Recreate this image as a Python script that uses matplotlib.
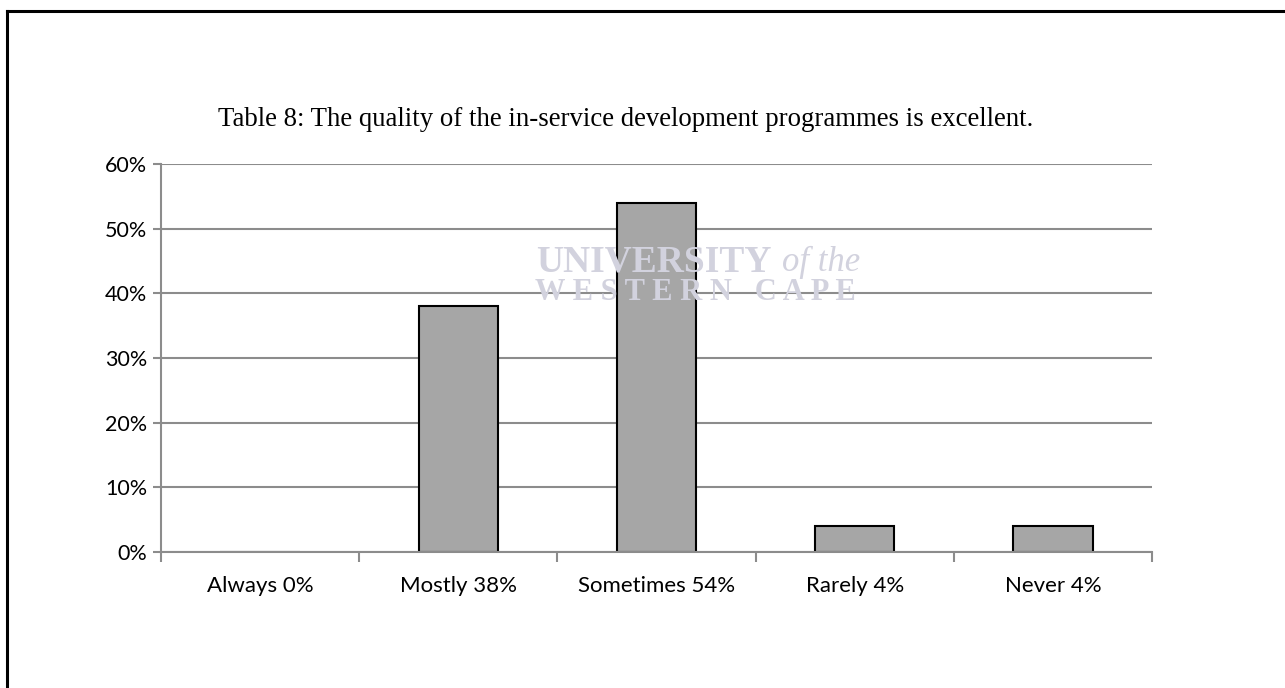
import matplotlib
matplotlib.use("Agg")
import matplotlib.pyplot as plt
from matplotlib.ticker import PercentFormatter, FixedLocator
import numpy as np

# ─────────────────────────────────────────────────────────────────────────────
# Data
# ─────────────────────────────────────────────────────────────────────────────

categories = ["Always 0%", "Mostly 38%", "Sometimes 54%", "Rarely 4%", "Never 4%"]
values = [0, 38, 54, 4, 4]
y_ticks = [0, 10, 20, 30, 40, 50, 60]
title = "Table 8: The quality of the in-service development programmes is excellent."

GRID = "#8c8c8c"
BAR = "#a6a6a6"
MARK = "#d2d2de"

fig = plt.figure(figsize=(12.85, 6.88), dpi=100)

# page frame (top and left edges of the cropped page)
fig.add_artist(plt.Line2D([7 / 1285, 7 / 1285], [0, 1 - 11 / 688], color="black", lw=2.2))
fig.add_artist(plt.Line2D([7 / 1285, 1], [1 - 11 / 688, 1 - 11 / 688], color="black", lw=2.2))

# faint watermark
fig.text(772 / 1285, 1 - 262 / 688, "UNIVERSITY", family="Liberation Serif",
         weight="bold", fontsize=27, color=MARK, ha="right", va="center", zorder=0)
fig.text(782 / 1285, 1 - 262 / 688, "of the", family="Liberation Serif", style="italic",
         fontsize=25, color=MARK, ha="left", va="center", zorder=0)
fig.text(695 / 1285, 1 - 293 / 688, "W E S T E R N   C A P E", family="Liberation Serif",
         weight="bold", fontsize=22, color=MARK, ha="center", va="center", zorder=0)

ax = fig.add_axes([161 / 1285, 1 - 552 / 688, (1152 - 161) / 1285, (552 - 164) / 688])
ax.patch.set_alpha(0)

x = np.arange(len(categories))
ax.bar(x, values, width=0.4, color=BAR, edgecolor="black", linewidth=1.5, zorder=3)

ax.set_xlim(-0.5, len(categories) - 0.5)
ax.set_ylim(0, 60)
ax.yaxis.set_major_locator(FixedLocator(y_ticks))
ax.yaxis.set_major_formatter(PercentFormatter(decimals=0))
ax.grid(axis="y", color=GRID, linewidth=1.5, zorder=0)

for side in ["top", "right"]:
    ax.spines[side].set_visible(False)
for side in ["left", "bottom"]:
    ax.spines[side].set_color(GRID)
    ax.spines[side].set_linewidth(1.5)
    ax.spines[side].set_zorder(4)

# category labels centred, ticks between categories
ax.set_xticks(x)
ax.set_xticklabels(categories, family="Lato", fontsize=16)
ax.tick_params(axis="x", length=0, pad=17)
ax.set_xticks(np.arange(-0.5, len(categories)), minor=True)
ax.tick_params(axis="x", which="minor", length=7, width=1.5, color=GRID)
ax.tick_params(axis="y", length=6, width=1.5, color=GRID, labelsize=15.5, pad=4)
for lbl in ax.get_yticklabels():
    lbl.set_family("Lato")

fig.text(626 / 1285, 1 - 120 / 688, title, family="Liberation Serif", fontsize=19.3,
         ha="center", va="center")

fig.savefig("out.png", dpi=100)
